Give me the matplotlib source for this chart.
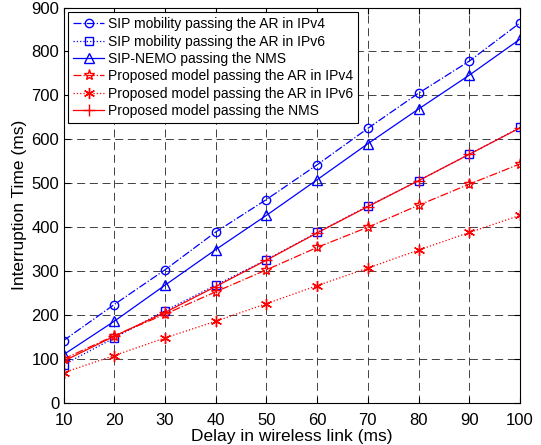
import numpy as np
import matplotlib
matplotlib.use('Agg')
import matplotlib.pyplot as plt

plt.rcParams['font.family'] = ['Liberation Sans', 'DejaVu Sans']

delay = [10, 20, 30, 40, 50, 60, 70, 80, 90, 100]
sip_ipv4 = [142, 224, 303, 389, 463, 542, 625, 705, 778, 865]
sip_ipv6 = [87, 148, 210, 268, 326, 388, 448, 506, 566, 627]
nemo_nms = [110, 186, 268, 349, 427, 508, 590, 669, 746, 828]
prop_ipv4 = [100, 153, 202, 253, 303, 354, 400, 450, 498, 544]
prop_ipv6 = [69, 108, 148, 186, 226, 267, 307, 348, 388, 427]
prop_nms = [95, 152, 206, 265, 325, 387, 447, 506, 566, 626]

labels = ['SIP mobility passing the AR in IPv4',
          'SIP mobility passing the AR in IPv6',
          'SIP-NEMO passing the NMS',
          'Proposed model passing the AR in IPv4',
          'Proposed model passing the AR in IPv6',
          'Proposed model passing the NMS']

fig = plt.figure(figsize=(5.41, 4.45), dpi=100)
ax = fig.add_axes([63.5/541, 1-403/445, (520-63.5)/541, (403-7.5)/445])

mfc = 'none'
ax.plot(delay, sip_ipv4, 'b-.', marker='o', ms=6, mfc=mfc, lw=0.9, label=labels[0])
ax.plot(delay, sip_ipv6, 'b:', marker='s', ms=6, mfc=mfc, lw=0.9, label=labels[1])
ax.plot(delay, nemo_nms, 'b-', marker='^', ms=7, mfc=mfc, lw=0.9, label=labels[2])
ax.plot(delay, prop_ipv4, 'r-.', marker='*', ms=8, mfc=mfc, lw=0.9, label=labels[3])
ax.plot(delay, prop_ipv6, 'r:', marker=(6, 2, 0), ms=8, lw=0.9, label=labels[4])
ax.plot(delay, prop_nms, 'r-', marker='+', ms=9, lw=0.9, label=labels[5])

ax.set_xlim(10, 100)
ax.set_ylim(0, 900)
ax.set_xticks(np.arange(10, 101, 10))
ax.set_yticks(np.arange(0, 901, 100))
ax.grid(True, color='#222222', linestyle=(0, (9.6, 5.6)), lw=0.6)
ax.tick_params(direction='in', labelsize=12, length=4, top=True, right=True)
ax.tick_params(axis='x', pad=7)
ax.tick_params(axis='y', pad=3)
for s in ax.spines.values():
    s.set_linewidth(0.8)

ax.set_xlabel('Delay in wireless link (ms)', fontsize=12.5, labelpad=1)
ax.set_ylabel('Interruption Time (ms)', fontsize=12.5, labelpad=3)

leg = ax.legend(loc='upper left', fontsize=10, handlelength=2.2, handletextpad=0.3,
                labelspacing=0.24, borderpad=0.35, borderaxespad=0.35,
                fancybox=False, framealpha=1, edgecolor='black')
leg.get_frame().set_linewidth(0.8)

fig.savefig('out.png', dpi=100)
